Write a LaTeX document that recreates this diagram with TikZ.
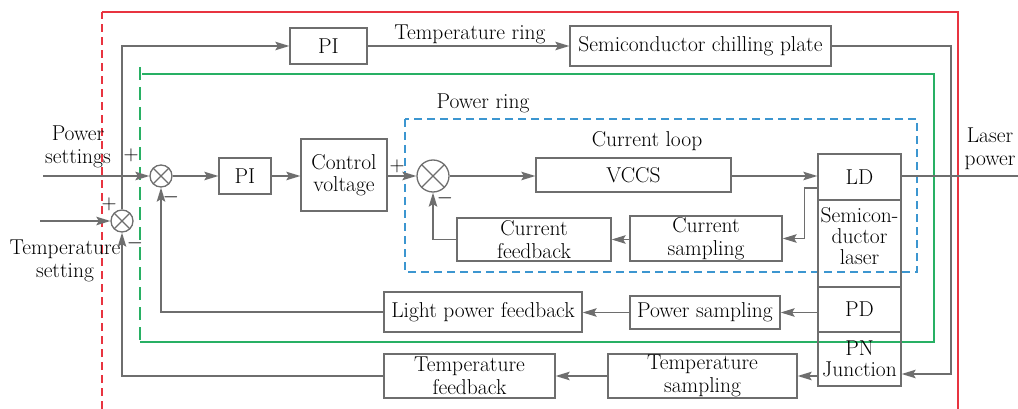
\documentclass[tikz,border=0pt]{standalone}
\usetikzlibrary{arrows.meta,calc}
\definecolor{lg}{RGB}{110,110,110}
\definecolor{redf}{RGB}{232,52,64}
\definecolor{greenf}{RGB}{40,176,100}
\definecolor{bluef}{RGB}{60,150,208}
\begin{document}
\begin{tikzpicture}[x=1pt,y=-1pt,font=\fontsize{21.5}{22.5}\selectfont,
  box/.style={draw=lg,line width=1.3pt,inner sep=0pt,align=center},
  sumc/.style={draw=lg,line width=1.3pt,circle,inner sep=0pt},
  conn/.style={draw=lg,line width=1.5pt},
  arr/.style={conn,-{Stealth[length=14pt,width=8.5pt,inset=2.5pt]}},
  lbl/.style={align=center,inner sep=0pt}]
\useasboundingbox (0,0) rectangle (1018,409);
% frames
\draw[redf,line width=1.2pt,dash pattern=on 8pt off 5pt] (102,409) -- (102,12);
\draw[redf,line width=1.2pt] (102,12) -- (958,12) -- (958,409);
\draw[greenf,line width=1.4pt,dash pattern=on 13pt off 7pt] (140,67) -- (140,342);
\draw[greenf,line width=1.4pt] (142,74) -- (934,74) -- (934,342) -- (140,342);
\draw[bluef,line width=1.3pt,dash pattern=on 8pt off 5pt] (405,119) rectangle (917,272);
% nodes
\node[box,minimum width=77pt,minimum height=36pt] (pi1) at (328.5,46) {PI};
\node[box,minimum width=261pt,minimum height=40pt] (scp) at (700.5,46) {Semiconductor chilling plate};
\node[lbl] (tring) at (470,34) {Temperature ring};
\node[box,minimum width=52pt,minimum height=36pt] (pi2) at (245,176) {PI};
\node[box,minimum width=86pt,minimum height=72pt] (cv) at (344,175) {Control\\voltage};
\node[sumc,minimum size=22pt] (s1) at (161,176) {};
\node[sumc,minimum size=22pt] (s2) at (122,221) {};
\node[sumc,minimum size=32pt] (s3) at (433,176) {};
\foreach \s in {s1,s2,s3}{
  \draw[lg,line width=1.3pt] (\s.north west) -- (\s.south east) (\s.north east) -- (\s.south west);}
\node[box,minimum width=195pt,minimum height=34pt] (vccs) at (633.5,175) {VCCS};
\node[box,minimum width=83pt,minimum height=46pt] (ld) at (859.5,177) {LD};
\node[box,minimum width=83pt,minimum height=87pt] (sl) at (859.5,243.5) {};
\node[lbl,font=\fontsize{21.5}{21}\selectfont] (sltxt) at (859.5,236.5) {Semicon-\\ductor\\laser};
\node[box,minimum width=83pt,minimum height=45pt] (pd) at (859.5,309.5) {PD};
\node[box,minimum width=83pt,minimum height=54pt,font=\fontsize{21.5}{21}\selectfont] (pn) at (859.5,359) {PN\\Junction};
\node[box,minimum width=152pt,minimum height=45pt] (cs) at (706,238.5) {Current\\sampling};
\node[box,minimum width=154pt,minimum height=43pt] (cf) at (534,239.5) {Current\\feedback};
\node[box,minimum width=150pt,minimum height=33pt] (ps) at (705,312.5) {Power sampling};
\node[box,minimum width=198pt,minimum height=40pt] (lpf) at (483,312) {Light power feedback};
\node[box,minimum width=189pt,minimum height=44pt] (ts) at (702.5,376) {Temperature\\sampling};
\node[box,minimum width=171pt,minimum height=44pt] (tf) at (469.5,376) {Temperature\\feedback};
% labels
\node[lbl] (pset) at (78,147) {Power\\settings};
\node[lbl] (tset) at (65,261) {Temperature\\setting};
\node[lbl] (lpow) at (990,149) {Laser\\power};
\node[lbl] (pring) at (483,103) {Power ring};
\node[lbl] (cloop) at (647,141) {Current loop};
\node[lbl] (p1) at (131,155) {$+$};
\node[lbl] (m1) at (171,197) {$-$};
\node[lbl] (p2) at (109,204) {$+$};
\node[lbl] (m2) at (135,243) {$-$};
\node[lbl] (p3) at (397,166) {$+$};
\node[lbl] (m3) at (445,198) {$-$};
% connectors
\coordinate (psin) at (43,176);
\coordinate (tsin) at (40,221);
\coordinate (lpo) at (1018,176);
\coordinate (tr1) at (951,46);
\draw[arr] (psin) -- (s1.west);
\draw[arr] (tsin) -- (s2.west);
\draw[arr] (s2.north) |- (pi1.west);
\draw[arr] (pi1.east) -- (scp.west);
\draw[arr] (scp.east) -- (tr1) |- ($(pn.east)+(0,15)$);
\draw[arr] (s1.east) -- (pi2.west);
\draw[arr] (pi2.east) -- (pi2.east -| cv.west);
\draw[arr] (cv.east |- s3.west) -- (s3.west);
\draw[arr] (s3.east) -- (s3.east -| vccs.west);
\draw[arr] (vccs.east |- s3.east) -- (s3.east -| ld.west);
\draw[conn] (ld.east |- lpo) -- (lpo);
\draw[arr] ($(ld.west)+(0,11)$) -- ++(-13,0) |- (cs.east);
\draw[arr] (cs.west |- cf.east) -- (cf.east);
\draw[arr] (cf.west) -| (s3.south);
\draw[arr] (pd.west |- ps.east) -- (ps.east);
\draw[arr] (ps.west) -- (ps.west -| lpf.east);
\draw[arr] (lpf.west) -| (s1.south);
\draw[arr] (pn.west |- ts.east) -- (ts.east);
\draw[arr] (ts.west) -- (ts.west -| tf.east);
\draw[arr] (tf.west) -| (s2.south);
\end{tikzpicture}
\end{document}
